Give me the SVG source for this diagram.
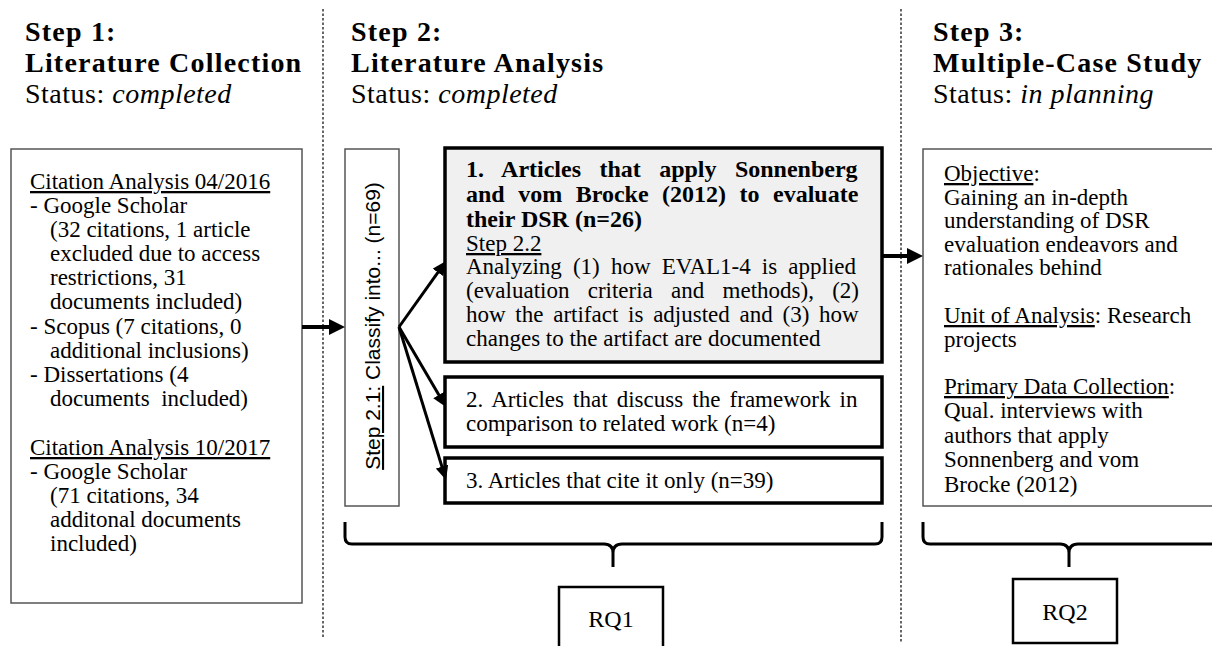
<svg xmlns="http://www.w3.org/2000/svg" width="1212" height="646" viewBox="0 0 1212 646">
<style>
text{font-family:"Liberation Serif","Times New Roman",serif;fill:#000}
.h{font-size:28px;font-weight:bold;letter-spacing:1.2px}
.st{font-size:28px;letter-spacing:0.5px}
.b{font-size:23px}
.bb{font-size:24px;font-weight:bold}
.u{text-decoration:underline}
.i{font-style:italic}
.thin{fill:#fff;stroke:#555;stroke-width:1.5}
.thick{fill:#fff;stroke:#000;stroke-width:3.5}
.rq{fill:#fff;stroke:#000;stroke-width:2.5}
.dash{stroke:#000;stroke-width:1.2;stroke-dasharray:2.5,2}
.arr{stroke:#000;fill:none}
</style>
<defs>
<marker id="big" markerUnits="userSpaceOnUse" viewBox="0 0 16 16" refX="6" refY="8" markerWidth="16" markerHeight="16" orient="auto"><path d="M0,0 L16,8 L0,16 z" fill="#000"/></marker>
<marker id="sm" markerUnits="userSpaceOnUse" viewBox="0 0 14 13" refX="5" refY="6.5" markerWidth="14" markerHeight="13" orient="auto"><path d="M0,0 L14,6.5 L0,13 z" fill="#000"/></marker>
</defs>
<rect width="1212" height="646" fill="#fff"/>

<g id="separators">
<line class="dash" x1="323" y1="9" x2="323" y2="638"/>
<line class="dash" x1="901" y1="9" x2="901" y2="643"/>
</g>

<g id="heading1">
<text class="h" x="25" y="41">Step 1:</text>
<text class="h" x="25" y="72">Literature Collection</text>
<text class="st" x="25" y="103">Status: <tspan class="i">completed</tspan></text>
</g>
<g id="heading2">
<text class="h" x="351" y="41">Step 2:</text>
<text class="h" x="351" y="72">Literature Analysis</text>
<text class="st" x="351" y="103">Status: <tspan class="i">completed</tspan></text>
</g>
<g id="heading3">
<text class="h" x="933" y="41">Step 3:</text>
<text class="h" x="933" y="72">Multiple-Case Study</text>
<text class="st" x="933" y="103">Status: <tspan class="i">in planning</tspan></text>
</g>

<g id="collection">
<rect class="thin" x="11" y="149" width="291" height="454"/>
<text class="b u" x="30" y="189">Citation Analysis 04/2016</text>
<text class="b" x="30" y="213">- Google Scholar</text>
<text class="b" x="50" y="237">(32 citations, 1 article</text>
<text class="b" x="50" y="261">excluded due to access</text>
<text class="b" x="50" y="285">restrictions, 31</text>
<text class="b" x="50" y="309">documents included)</text>
<text class="b" x="30" y="334">- Scopus (7 citations, 0</text>
<text class="b" x="50" y="358">additional inclusions)</text>
<text class="b" x="30" y="382">- Dissertations (4</text>
<text class="b" x="50" y="406" xml:space="preserve">documents  included)</text>
<text class="b u" x="30" y="455">Citation Analysis 10/2017</text>
<text class="b" x="30" y="479">- Google Scholar</text>
<text class="b" x="50" y="503">(71 citations, 34</text>
<text class="b" x="50" y="527">additonal documents</text>
<text class="b" x="50" y="551">included)</text>
</g>

<g id="classify">
<rect class="thin" x="345" y="149" width="54" height="357"/>
<text transform="translate(380,326) rotate(-90)" text-anchor="middle" style="font-family:'Liberation Sans',Arial,sans-serif;font-size:21px"><tspan class="u">Step 2.1:</tspan> Classify into... (n=69)</text>
</g>

<g id="category1">
<rect x="445" y="148" width="437" height="214" fill="#f0f0f0" stroke="#000" stroke-width="3.5"/>
<text class="bb" x="466" y="177" style="word-spacing:12.4px">1. Articles that apply Sonnenberg</text>
<text class="bb" x="466" y="202" style="word-spacing:7.5px">and vom Brocke (2012) to evaluate</text>
<text class="bb" x="466" y="227">their DSR (n=26)</text>
<text class="b u" x="466" y="251">Step 2.2</text>
<text class="b" x="466" y="274" style="word-spacing:5.4px">Analyzing (1) how EVAL1-4 is applied</text>
<text class="b" x="466" y="298" style="word-spacing:12.5px">(evaluation criteria and methods), (2)</text>
<text class="b" x="466" y="322" style="word-spacing:4px">how the artifact is adjusted and (3) how</text>
<text class="b" x="466" y="346">changes to the artifact are documented</text>
</g>

<g id="category2">
<rect class="thick" x="445" y="377" width="437" height="70"/>
<text class="b" x="466" y="407" style="word-spacing:3.4px">2. Articles that discuss the framework in</text>
<text class="b" x="466" y="431">comparison to related work (n=4)</text>
</g>

<g id="category3">
<rect class="thick" x="445" y="458" width="437" height="45"/>
<text class="b" x="466" y="488">3. Articles that cite it only (n=39)</text>
</g>

<g id="casestudy">
<rect class="thin" x="923" y="149" width="300" height="357"/>
<text class="b" x="944" y="181"><tspan class="u">Objective</tspan>:</text>
<text class="b" x="944" y="205">Gaining an in-depth</text>
<text class="b" x="944" y="228">understanding of DSR</text>
<text class="b" x="944" y="252">evaluation endeavors and</text>
<text class="b" x="944" y="275">rationales behind</text>
<text class="b" x="944" y="323"><tspan class="u">Unit of Analysis</tspan>: Research</text>
<text class="b" x="944" y="347">projects</text>
<text class="b" x="944" y="394"><tspan class="u">Primary Data Collection</tspan>:</text>
<text class="b" x="944" y="418">Qual. interviews with</text>
<text class="b" x="944" y="443">authors that apply</text>
<text class="b" x="944" y="467">Sonnenberg and vom</text>
<text class="b" x="944" y="492">Brocke (2012)</text>
</g>

<g id="rq1">
<rect class="rq" x="559" y="587" width="104" height="75"/>
<text class="b" x="611" y="627" text-anchor="middle" style="font-size:24px">RQ1</text>
</g>
<g id="rq2">
<rect class="rq" x="1013" y="579" width="104" height="64"/>
<text class="b" x="1065" y="620" text-anchor="middle" style="font-size:24px">RQ2</text>
</g>

<g id="connectors">
<line class="arr" x1="302" y1="327" x2="335" y2="327" stroke-width="4" marker-end="url(#big)"/>
<line class="arr" x1="882" y1="256" x2="913" y2="256" stroke-width="4" marker-end="url(#big)"/>
<line class="arr" x1="399" y1="327" x2="440.8" y2="268.3" stroke-width="3" marker-end="url(#sm)"/>
<line class="arr" x1="399" y1="327" x2="441.4" y2="399.2" stroke-width="3" marker-end="url(#sm)"/>
<line class="arr" x1="399" y1="327" x2="443.4" y2="471.4" stroke-width="3" marker-end="url(#sm)"/>
<path class="arr" stroke-width="3" d="M345,522 V537 Q345,544 352,544 H604 Q613,544 613,553 V567 M613,553 Q613,544 622,544 H875 Q882,544 882,537 V522"/>
<path class="arr" stroke-width="3" d="M923,522 V537 Q923,544 930,544 H1060 Q1069,544 1069,553 V567 M1069,553 Q1069,544 1078,544 H1216"/>
</g>
</svg>
